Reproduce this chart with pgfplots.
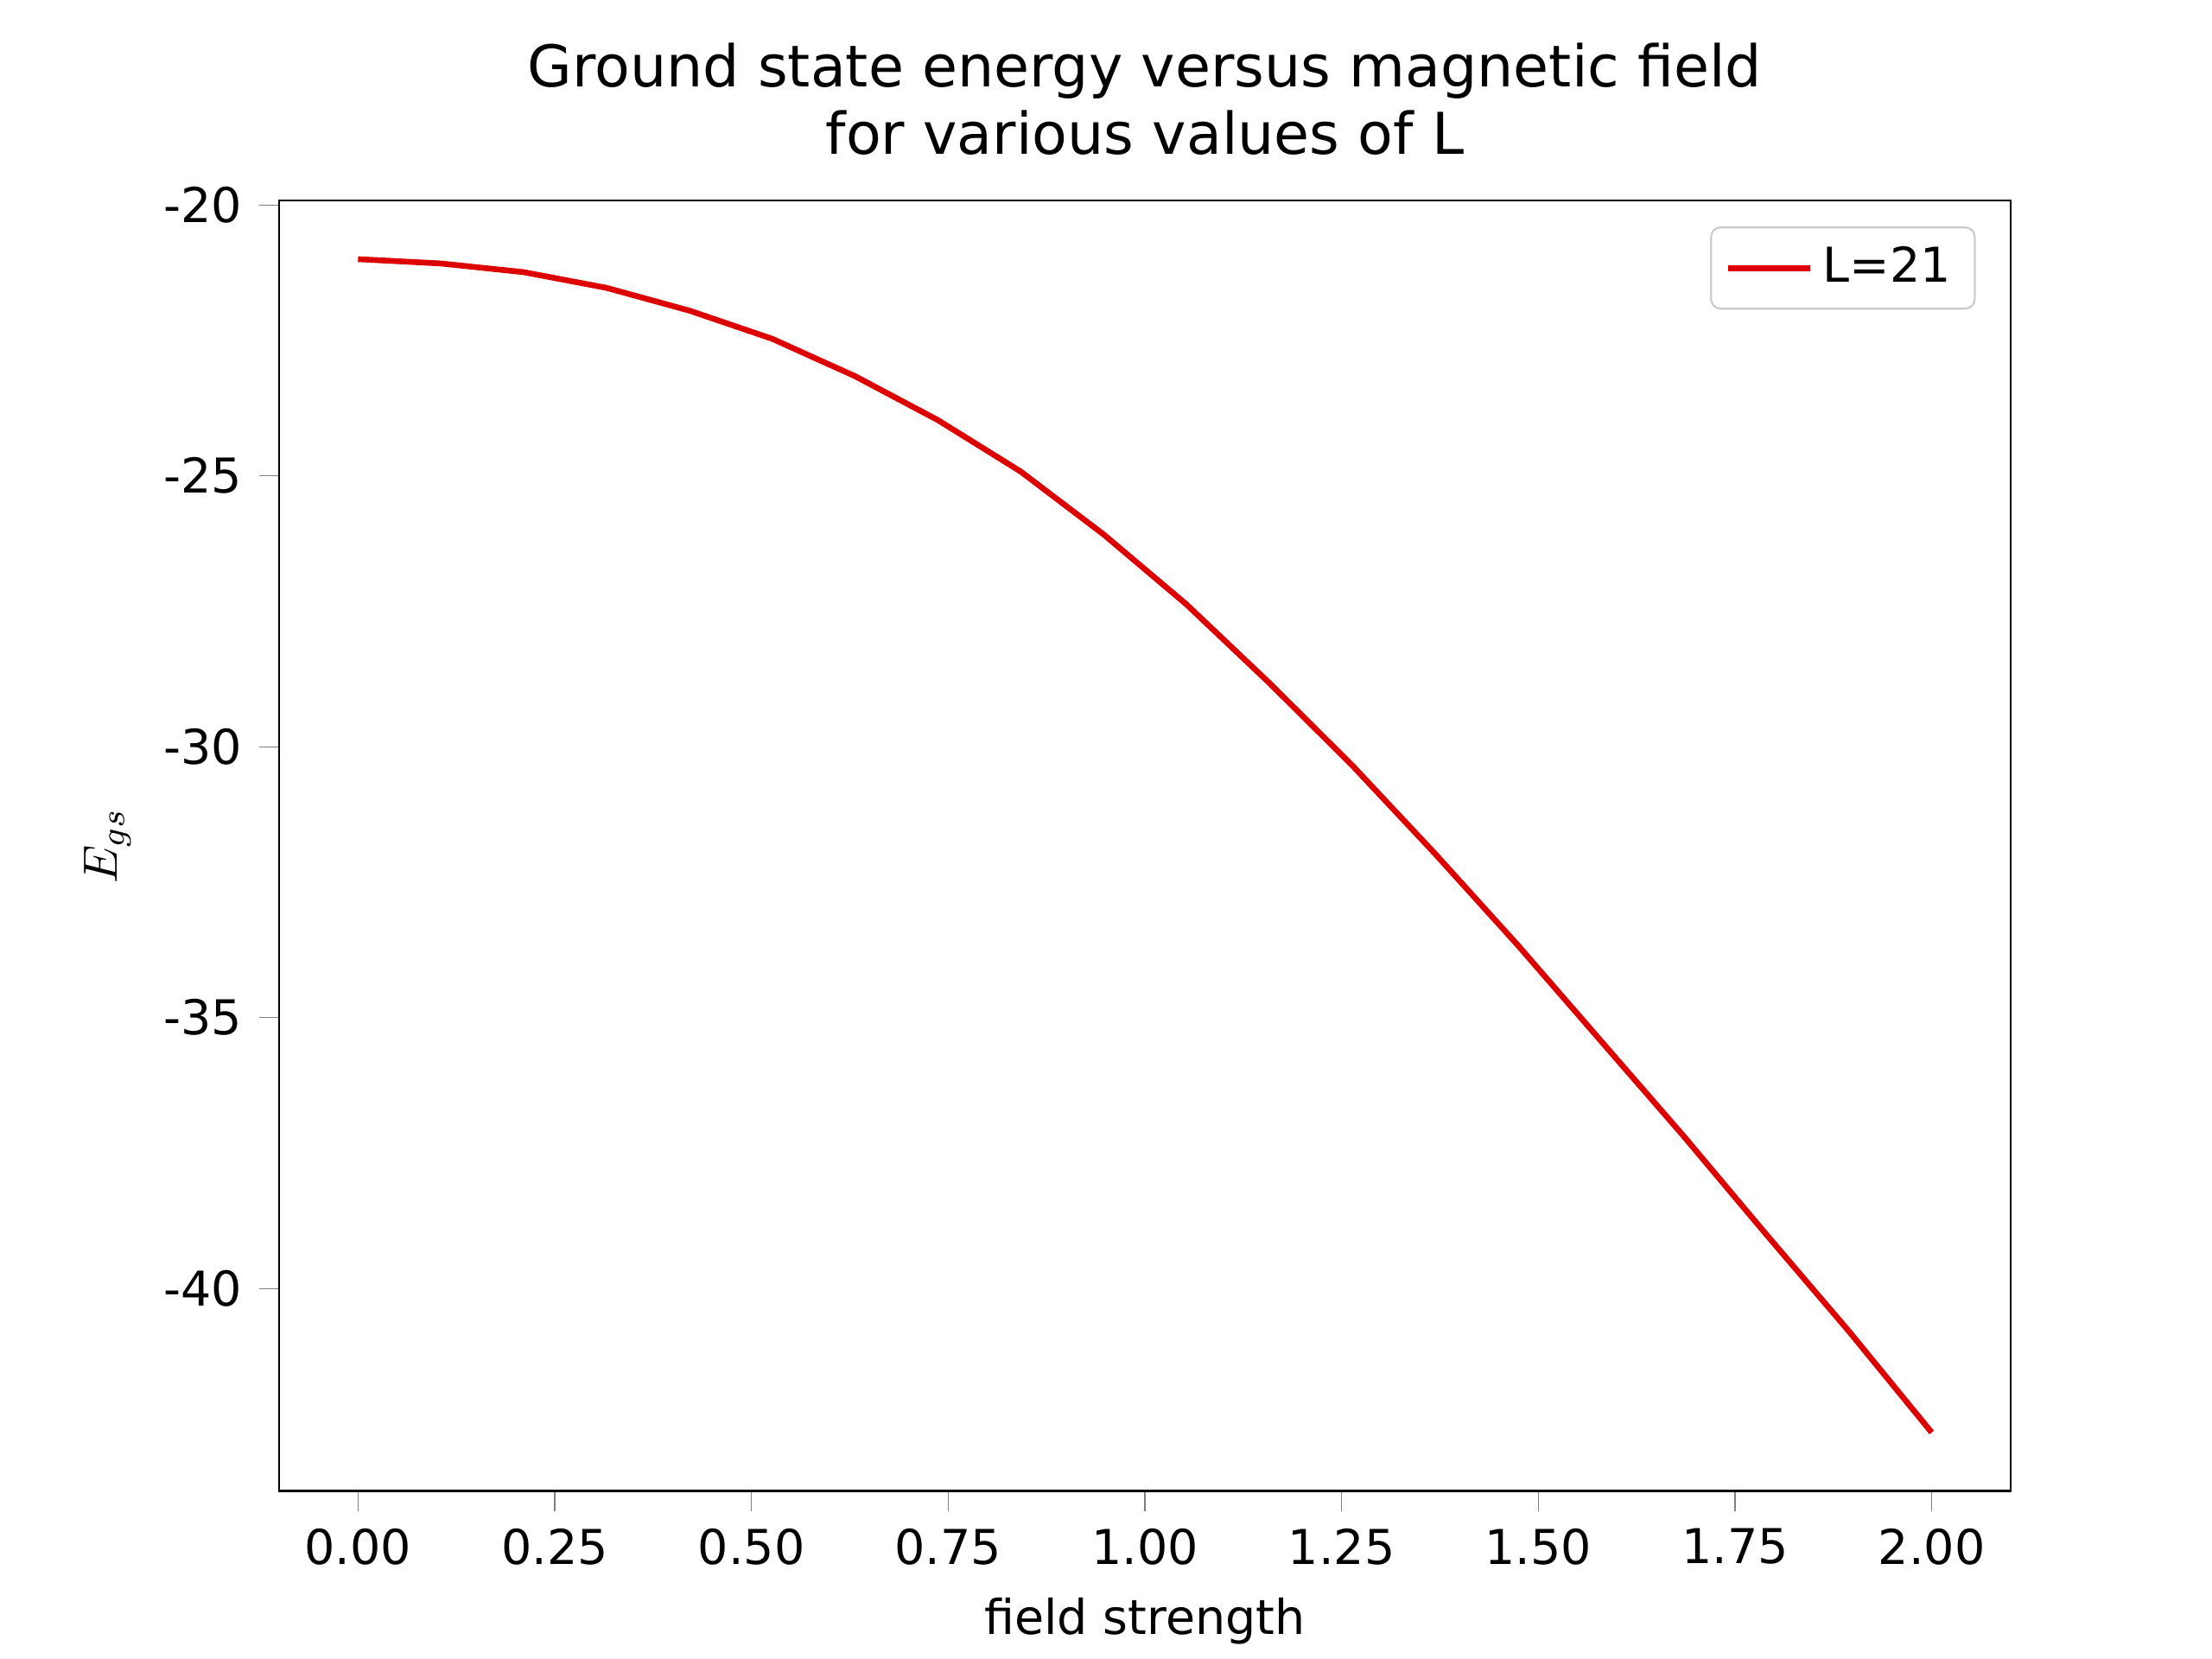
\documentclass[border=0pt]{standalone}
\usepackage{pgfplots}
\pgfplotsset{compat=1.18}
\usepackage{fontspec}
\setmainfont{DejaVu Sans}
\begin{document}
\fontsize{10}{12}\selectfont
\begin{tikzpicture}
\useasboundingbox (-58.2pt,-35pt) rectangle (402.6pt,310.6pt);
\begin{axis}[at={(0,0)},anchor=south west,scale only axis,
width=360.6pt,height=268.8pt,
xmin=-0.1,xmax=2.1,ymin=-43.74,ymax=-19.92,
xtick={0,0.25,...,2.0},
xticklabel style={/pgf/number format/.cd,fixed,fixed zerofill,precision=2},
ytick={-40,-35,-30,-25,-20},
/pgf/number format/assume math mode=true,
tick align=outside, tick pos=left,
xlabel={field strength}, ylabel={$E_{gs}$},
title style={align=center,font=\fontsize{12}{14}\selectfont},
title={Ground state energy versus magnetic field\\for various values of L},
legend style={at={(0.98,0.98)},anchor=north east,draw=black!20,rounded corners=2pt},
legend cell align=left]
\addplot[color={rgb,255:red,221;green,0;blue,0},line width=1.2pt] coordinates {
(0.0000,-21.00)(0.1053,-21.08)(0.2105,-21.24)(0.3158,-21.53)(0.4211,-21.95)
(0.5263,-22.47)(0.6316,-23.16)(0.7368,-23.97)(0.8421,-24.92)(0.9474,-26.08)
(1.0526,-27.37)(1.1579,-28.82)(1.2632,-30.34)(1.3684,-31.97)(1.4737,-33.66)
(1.5789,-35.42)(1.6842,-37.18)(1.7895,-39.00)(1.8947,-40.79)(2.0000,-42.66)};
\addlegendentry{L=21}
\end{axis}
\end{tikzpicture}
\end{document}
